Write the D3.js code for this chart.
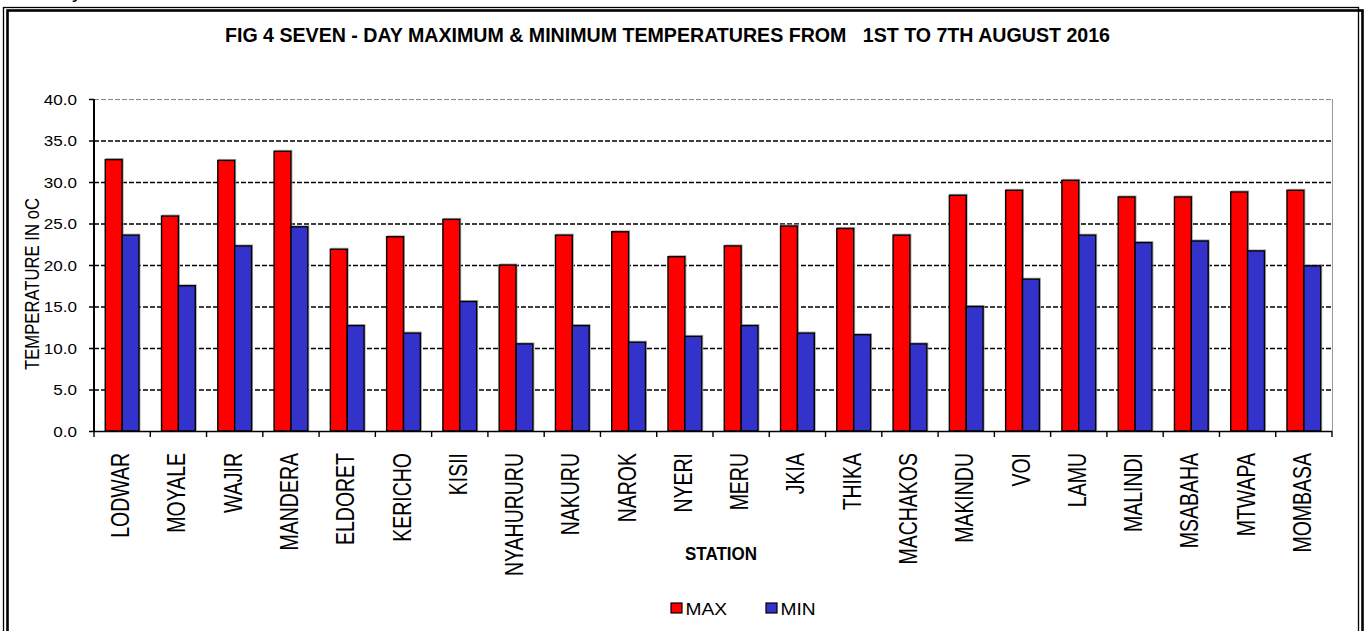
<!DOCTYPE html>
<html>
<head>
<meta charset="utf-8">
<script src="https://cdn.jsdelivr.net/npm/d3@7"></script>
<style>
  html, body { margin: 0; padding: 0; background: #fff; }
  svg { display: block; }
  text { font-family: "Liberation Sans", Arial, sans-serif; fill: #000; }
</style>
</head>
<body>
<svg id="chart" width="1367" height="631"></svg>
<script>
const stations = ["LODWAR","MOYALE","WAJIR","MANDERA","ELDORET","KERICHO","KISII","NYAHURURU","NAKURU","NAROK","NYERI","MERU","JKIA","THIKA","MACHAKOS","MAKINDU","VOI","LAMU","MALINDI","MSABAHA","MTWAPA","MOMBASA"];
const maxTemps = [32.7,25.9,32.6,33.7,21.9,23.4,25.5,20.0,23.6,24.0,21.0,22.3,24.7,24.4,23.6,28.4,29.0,30.2,28.2,28.2,28.8,29.0];
const minTemps = [23.6,17.5,22.3,24.6,12.7,11.8,15.6,10.5,12.7,10.7,11.4,12.7,11.8,11.6,10.5,15.0,18.3,23.6,22.7,22.9,21.7,19.9];
const seriesNames = ["MAX","MIN"];
const seriesColors = ["#ff0000","#3333cc"];
const yTicks = [0,5,10,15,20,25,30,35,40];
const titleText = "FIG 4 SEVEN - DAY MAXIMUM & MINIMUM TEMPERATURES FROM   1ST TO 7TH AUGUST 2016";
const xTitle = "STATION";
const yTitle = "TEMPERATURE IN oC";

const svg = d3.select("#chart");
const L = 94, R = 1332, T = 99, B = 431;

// frame
svg.append("rect").attr("x",3.5).attr("y",7.5).attr("width",1355).attr("height",640)
  .attr("fill","none").attr("stroke","#000").attr("stroke-width",1.3);
svg.append("rect").attr("x",7.5).attr("y",10.5).attr("width",1355).attr("height",640)
  .attr("fill","none").attr("stroke","#000").attr("stroke-width",2.6);
// cut-off glyph at top (fragment of a line above the frame in the original)
svg.append("text").attr("x",72).attr("y",-3).attr("font-size",22).text("y");

// title
svg.append("text").attr("x",225).attr("y",42)
  .attr("font-family","'Liberation Sans Narrow','DejaVu Sans Condensed','Liberation Sans',sans-serif")
  .attr("font-weight","bold").attr("font-size",21)
  .attr("textLength",885).attr("lengthAdjust","spacingAndGlyphs")
  .style("white-space","pre").text(titleText);

const x0 = d3.scaleBand().domain(stations).range([L,R]).paddingInner(0.4).paddingOuter(0.2);
const x1 = d3.scaleBand().domain(seriesNames).range([0,x0.bandwidth()]);
const xb = d3.scaleLinear().domain([0,stations.length]).range([L,R]);
const y = d3.scaleLinear().domain([0,40]).range([B,T]);

// gridlines
const grid = svg.append("g").attr("transform",`translate(${L},0)`)
  .call(d3.axisLeft(y).tickValues(yTicks.filter(v=>v>0)).tickSize(-(R-L)).tickFormat(""));
grid.select(".domain").remove();
grid.selectAll(".tick line")
  .attr("stroke",d=>d===40?"#888":"#000")
  .attr("stroke-width",d=>d===40?1:1.3)
  .attr("stroke-dasharray","5,2");
// right border of plot
svg.append("line").attr("x1",R+0.5).attr("x2",R+0.5).attr("y1",y(40)).attr("y2",y(0))
  .attr("stroke","#999").attr("stroke-width",1);

// bars
const data = stations.map((s,i)=>({station:s, values:[maxTemps[i],minTemps[i]]}));
const groups = svg.append("g").selectAll("g").data(data).join("g")
  .attr("transform",d=>`translate(${x0(d.station)},0)`);
groups.selectAll("rect.shadow").data(d=>d.values.map((v,j)=>({name:seriesNames[j],v,j})))
  .join("rect").attr("class","shadow")
  .attr("x",d=>x1(d.name)+1).attr("y",d=>y(d.v)-1)
  .attr("width",x1.bandwidth()).attr("height",d=>y(0)-y(d.v))
  .attr("fill","none").attr("stroke","#aaa").attr("stroke-width",1);
groups.selectAll("rect.bar").data(d=>d.values.map((v,j)=>({name:seriesNames[j],v,j})))
  .join("rect").attr("class","bar")
  .attr("x",d=>x1(d.name)).attr("y",d=>y(d.v))
  .attr("width",x1.bandwidth()).attr("height",d=>y(0)-y(d.v))
  .attr("fill",d=>seriesColors[d.j]).attr("stroke","#000").attr("stroke-width",1.4);

// y axis
const yAxis = svg.append("g").attr("transform",`translate(${L},0)`)
  .call(d3.axisLeft(y).tickValues(yTicks).tickSize(5).tickFormat(d3.format(".1f")));
yAxis.select(".domain").attr("stroke","#000").attr("stroke-width",2).attr("d",`M0,${T}V${B}`);
yAxis.selectAll(".tick line").attr("stroke","#000").attr("stroke-width",1.5);
yAxis.selectAll(".tick text")
  .attr("x",null).attr("dy",null)
  .attr("transform","translate(-17,5) scale(1.22,1)")
  .attr("text-anchor","end")
  .attr("font-size",14).attr("font-family","'Liberation Sans',Arial,sans-serif");

// x axis line and boundary ticks
svg.append("line").attr("x1",L).attr("x2",R).attr("y1",B+0.5).attr("y2",B+0.5)
  .attr("stroke","#000").attr("stroke-width",1.6);
svg.append("g").selectAll("line").data(d3.range(stations.length+1)).join("line")
  .attr("x1",d=>xb(d)).attr("x2",d=>xb(d)).attr("y1",B).attr("y2",B+6)
  .attr("stroke","#000").attr("stroke-width",1.4);

// x labels
const xAxis = svg.append("g").attr("transform",`translate(0,${B})`)
  .call(d3.axisBottom(x0).tickSize(0).tickPadding(0));
xAxis.select(".domain").remove();
xAxis.selectAll(".tick text")
  .attr("y",null).attr("dy",null)
  .attr("transform","translate(7,22) rotate(-90) scale(1,1.28)")
  .attr("text-anchor","end")
  .attr("font-size",19.5).attr("font-family","'Liberation Sans',Arial,sans-serif");

// axis titles
svg.append("text").attr("x",721).attr("y",560).attr("text-anchor","middle")
  .attr("font-family","'Liberation Sans Narrow','DejaVu Sans Condensed','Liberation Sans',sans-serif")
  .attr("font-weight","bold").attr("font-size",19)
  .attr("textLength",72).attr("lengthAdjust","spacingAndGlyphs").text(xTitle);
svg.append("text")
  .attr("transform","translate(39,284) rotate(-90) scale(1,1.25)")
  .attr("text-anchor","middle").attr("font-size",16)
  .attr("textLength",172).attr("lengthAdjust","spacingAndGlyphs").text(yTitle);

// legend
const legend = svg.append("g").selectAll("g").data(seriesNames).join("g")
  .attr("transform",(d,i)=>`translate(${[671,766][i]},603)`);
legend.append("rect").attr("width",11).attr("height",10)
  .attr("fill",(d,i)=>seriesColors[i]).attr("stroke","#000").attr("stroke-width",1.2);
legend.append("text").attr("transform","translate(14.5,11.5) scale(1.2,1)")
  .attr("font-size",16).text(d=>d);
</script>
</body>
</html>
